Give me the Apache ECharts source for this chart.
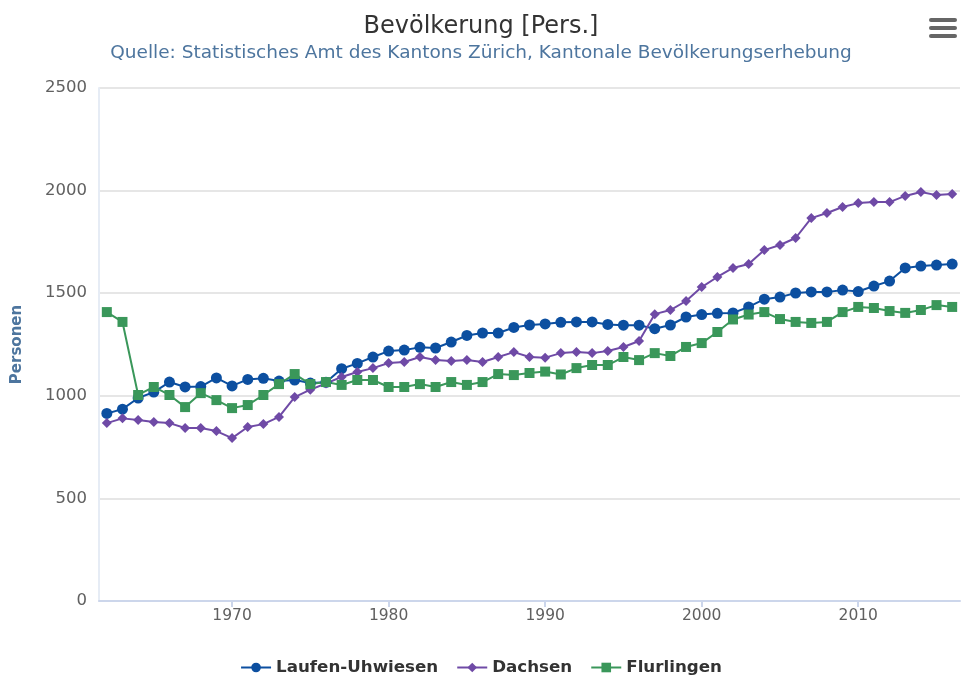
<!DOCTYPE html>
<html>
<head>
<meta charset="utf-8">
<script src="https://cdn.jsdelivr.net/npm/echarts@6/dist/echarts.min.js"></script>
<style>
  html, body { margin: 0; padding: 0; background: #fff; }
  #chart { width: 962px; height: 677px; }
</style>
</head>
<body>
<div id="chart"></div>
<script>
  const years = [];
  for (let y = 1962; y <= 2016; y++) years.push(String(y));

  const laufenUhwiesen = [
    914, 935, 989, 1018, 1067, 1043, 1045, 1087, 1048, 1080,
    1085, 1072, 1077, 1062, 1066, 1132, 1158, 1189, 1218, 1223,
    1236, 1233, 1262, 1294, 1306, 1306, 1333, 1345, 1350, 1358,
    1360, 1360, 1348, 1344, 1344, 1327, 1345, 1384, 1396, 1402,
    1404, 1433, 1471, 1481, 1501, 1506, 1506, 1515, 1508, 1535,
    1559, 1623, 1632, 1637, 1642
  ];

  const dachsen = [
    867, 890, 882, 872, 867, 843, 843, 828, 794, 848,
    862, 897, 994, 1030, 1060, 1092, 1116, 1135, 1160, 1165,
    1189, 1174, 1170, 1174, 1165, 1189, 1213, 1189, 1186, 1208,
    1213, 1208, 1218, 1238, 1267, 1398, 1418, 1462, 1530, 1579,
    1623, 1642, 1710, 1735, 1769, 1866, 1891, 1920, 1939, 1944,
    1944, 1974, 1993, 1978, 1983
  ];

  const flurlingen = [
    1408, 1360, 1004, 1043, 1004, 945, 1013, 979, 940, 955,
    1004, 1057, 1106, 1057, 1067, 1053, 1077, 1077, 1043, 1043,
    1057, 1043, 1067, 1053, 1067, 1106, 1101, 1111, 1118, 1104,
    1135, 1150, 1150, 1189, 1174, 1208, 1194, 1238, 1257, 1311,
    1372, 1396, 1408, 1374, 1360, 1355, 1360, 1408, 1433, 1428,
    1413, 1404, 1418, 1442, 1433
  ];

  const yTicks = { min: 0, max: 2500, step: 500 };
  const labelYears = ['1970', '1980', '1990', '2000', '2010'];

  const font = '"DejaVu Sans", sans-serif';

  const lineSeries = (name, data, color, symbol, size) => ({
    name: name,
    type: 'line',
    data: data,
    symbol: symbol,
    symbolSize: size,
    showSymbol: true,
    showAllSymbol: true,
    color: color,
    lineStyle: { color: color, width: 2 },
    itemStyle: { color: color },
    animation: false,
  });

  const chart = echarts.init(document.getElementById('chart'));
  chart.setOption({
    backgroundColor: '#fff',
    textStyle: { fontFamily: font },
    title: {
      text: 'Bevölkerung [Pers.]',
      subtext: 'Quelle: Statistisches Amt des Kantons Zürich, Kantonale Bevölkerungserhebung',
      left: 'center',
      top: 10,
      itemGap: 5,
      textStyle: { fontFamily: font, fontSize: 24, fontWeight: 'normal', color: '#333333' },
      subtextStyle: { fontFamily: font, fontSize: 18.5, color: '#4d759e' },
    },
    legend: {
      top: 654,
      left: 'center',
      itemWidth: 30,
      itemHeight: 12,
      itemGap: 18,
      textStyle: { fontFamily: font, fontSize: 16.7, fontWeight: 'bold', color: '#333333' },
      data: ['Laufen-Uhwiesen', 'Dachsen', 'Flurlingen'],
    },
    grid: { left: 99, right: 2, top: 88, bottom: 76, containLabel: false },
    xAxis: {
      type: 'category',
      data: years,
      boundaryGap: true,
      axisLine: { lineStyle: { color: '#ccd6eb', width: 2 } },
      axisTick: {
        show: true,
        length: 6,
        alignWithLabel: true,
        interval: (i, v) => labelYears.includes(v),
        lineStyle: { color: '#ccd6eb', width: 2 },
      },
      axisLabel: {
        interval: (i, v) => labelYears.includes(v),
        color: '#606060',
        fontSize: 15.5,
        margin: 7,
        fontFamily: font,
      },
      splitLine: { show: false },
    },
    yAxis: {
      type: 'value',
      min: yTicks.min,
      max: yTicks.max,
      interval: yTicks.step,
      name: 'Personen',
      nameLocation: 'middle',
      nameGap: 74,
      nameTextStyle: { color: '#4d759e', fontSize: 15, fontWeight: 'bold', fontFamily: font },
      axisLine: { show: true, lineStyle: { color: '#e6ecf5', width: 2 } },
      axisTick: { show: false },
      axisLabel: {
        color: '#606060',
        fontSize: 16.5,
        margin: 12,
        fontFamily: font,
        formatter: (v) => String(v),
      },
      splitLine: { lineStyle: { color: '#e6e6e6', width: 2 } },
    },
    graphic: [
      { type: 'rect', right: 5, top: 18, shape: { width: 28, height: 4, r: 2 }, style: { fill: '#666' } },
      { type: 'rect', right: 5, top: 26, shape: { width: 28, height: 4, r: 2 }, style: { fill: '#666' } },
      { type: 'rect', right: 5, top: 34, shape: { width: 28, height: 4, r: 2 }, style: { fill: '#666' } },
    ],
    series: [
      lineSeries('Laufen-Uhwiesen', laufenUhwiesen, '#0c4fa0', 'circle', 11),
      lineSeries('Dachsen', dachsen, '#6f4aa6', 'diamond', 10),
      lineSeries('Flurlingen', flurlingen, '#3a975a', 'rect', 10),
    ],
  });
</script>
</body>
</html>
